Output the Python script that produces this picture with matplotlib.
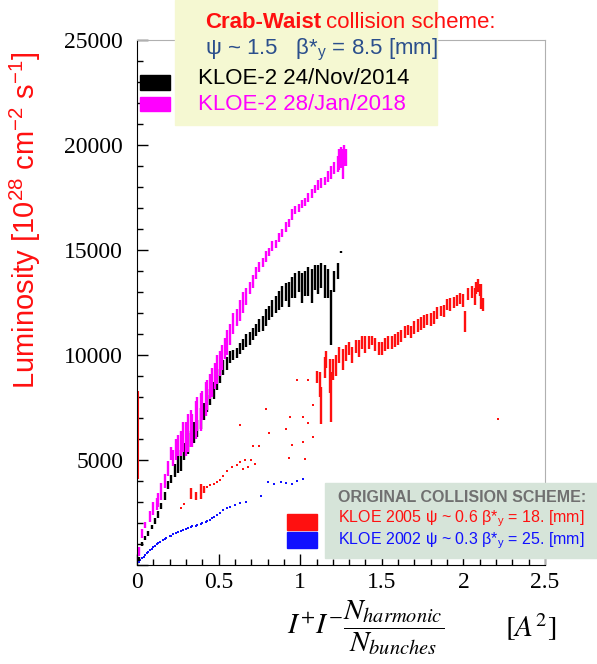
import matplotlib.pyplot as plt
import numpy as np
from matplotlib.patches import Rectangle

plt.rcParams['mathtext.fontset'] = 'custom'
plt.rcParams['mathtext.rm'] = 'Liberation Sans'
plt.rcParams['mathtext.it'] = 'Liberation Sans:italic'

# KLOE-2 28/Jan/2018 (magenta): x, luminosity, half spread
mag_x = [0.01, 0.03, 0.05, 0.08, 0.10, 0.12, 0.13, 0.15, 0.17, 0.19, 0.21, 0.22, 0.24, 0.25,
         0.27, 0.28, 0.30, 0.31, 0.33, 0.34, 0.36, 0.37, 0.39, 0.40, 0.42, 0.43, 0.45, 0.46,
         0.48, 0.49, 0.51, 0.52, 0.54, 0.55, 0.57, 0.59, 0.61, 0.63, 0.65, 0.67, 0.69, 0.71,
         0.73, 0.75, 0.77, 0.79, 0.81, 0.83, 0.85, 0.87, 0.89, 0.91, 0.93, 0.95, 0.97, 0.99,
         1.01, 1.03, 1.05, 1.07, 1.09, 1.11, 1.13, 1.15, 1.17, 1.19, 1.21, 1.23, 1.24, 1.25,
         1.26, 1.27, 1.28]
mag_y = [650, 1500, 1900, 2300, 2700, 2900, 3100, 3500, 4000, 4600, 5300, 5100, 5500, 5700,
         5800, 6100, 6000, 6300, 6500, 6400, 6900, 7200, 7300, 7600, 7900, 8100, 8500, 8700,
         9000, 9300, 9600, 9900, 10300, 10600, 11000, 11500, 11800, 12100, 12500, 12800, 13200,
         13500, 13900, 14200, 14400, 14700, 14900, 15200, 15300, 15600, 15800, 16100, 16300,
         16700, 16900, 17000, 17200, 17300, 17500, 17700, 17900, 18100, 18200, 18300, 18500,
         18700, 18900, 19100, 19300, 19400, 19100, 19500, 19400]
mag_e = [200, 200, 150, 250, 300, 300, 350, 400, 350, 350, 300, 400, 500, 500,
         600, 700, 800, 900, 900, 800, 900, 800, 900, 700, 800, 700, 600, 700,
         600, 700, 600, 600, 500, 600, 500, 500, 400, 500, 500, 400, 300, 300,
         300, 250, 200, 250, 200, 250, 200, 200, 200, 250, 200, 250, 200, 200,
         200, 200, 200, 200, 200, 250, 250, 200, 250, 300, 300, 400, 500, 500,
         700, 500, 400]

# KLOE-2 24/Nov/2014 (black)
blk_x = [0.01, 0.03, 0.05, 0.07, 0.09, 0.11, 0.13, 0.15, 0.17, 0.19, 0.21, 0.23, 0.25, 0.27,
         0.29, 0.31, 0.33, 0.35, 0.37, 0.39, 0.41, 0.43, 0.45, 0.47, 0.49, 0.51, 0.53, 0.55,
         0.57, 0.59, 0.61, 0.63, 0.65, 0.67, 0.69, 0.71, 0.73, 0.75, 0.77, 0.79, 0.81, 0.83,
         0.85, 0.87, 0.89, 0.91, 0.93, 0.95, 0.97, 0.99, 1.01, 1.03, 1.05, 1.07, 1.09, 1.11,
         1.13, 1.15, 1.17, 1.19, 1.21, 1.23, 1.25]
blk_y = [300, 1000, 1300, 1500, 1800, 2100, 2400, 2800, 3300, 3800, 4100, 4500, 4800, 5000,
         5400, 5800, 6000, 6300, 6500, 7000, 7300, 7700, 8000, 8300, 8700, 9000, 9400, 9600,
         9900, 10000, 10100, 10300, 10500, 10700, 10800, 11000, 11200, 11400, 11500, 11800,
         12000, 12200, 12400, 12600, 12800, 13000, 12900, 13200, 13300, 13500, 13200, 13400,
         13500, 13300, 13700, 13600, 13800, 13500, 13400, 11800, 13500, 14000, 14900]
blk_e = [100, 100, 100, 100, 100, 150, 150, 150, 200, 200, 200, 300, 400, 500,
         400, 500, 400, 500, 400, 500, 400, 400, 400, 400, 350, 350, 350, 300,
         300, 250, 250, 250, 250, 300, 300, 300, 300, 300, 350, 400, 350, 400,
         400, 450, 500, 450, 600, 500, 600, 500, 700, 600, 700, 800, 600, 700,
         600, 800, 700, 1300, 500, 400, 60]

# KLOE 2005 (red), main branch with spread
red_x = [0.33, 0.36, 0.39, 0.41, 1.10, 1.12, 1.13, 1.15, 1.16, 1.18, 1.19, 1.20, 1.22, 1.24,
         1.26, 1.28, 1.30, 1.32, 1.34, 1.36, 1.38, 1.40, 1.42, 1.44, 1.46, 1.48, 1.50, 1.52,
         1.54, 1.56, 1.58, 1.60, 1.62, 1.64, 1.66, 1.68, 1.70, 1.72, 1.74, 1.76, 1.78, 1.80,
         1.82, 1.84, 1.86, 1.88, 1.90, 1.92, 1.94, 1.96, 1.98, 2.00, 2.01, 2.03, 2.05, 2.07,
         2.08, 2.09, 2.10, 2.11, 2.12]
red_y = [3400, 3300, 3500, 3600, 8950, 8600, 7600, 9400, 9800, 9000, 8000, 9300, 9500, 10000,
         9800, 10100, 10300, 10000, 10400, 10300, 10600, 10500, 10600, 10700, 10500, 10300,
         10300, 10500, 10600, 10600, 10700, 10800, 10900, 11100, 11200, 11100, 11300, 11400,
         11500, 11600, 11700, 11700, 11800, 12000, 12100, 12100, 12400, 12400, 12500, 12600,
         12700, 12600, 11600, 12900, 13000, 12800, 13200, 13300, 13100, 12800, 12400]
red_e = [250, 200, 350, 150, 300, 600, 900, 500, 400, 800, 1200, 500, 500, 400,
         500, 400, 300, 400, 300, 400, 300, 400, 300, 200, 300, 300, 300, 300,
         300, 300, 300, 300, 300, 300, 250, 300, 300, 300, 300, 300, 250, 300,
         300, 300, 250, 300, 250, 300, 250, 250, 250, 300, 500, 300, 300, 400,
         300, 300, 300, 600, 300]

# KLOE 2005 (red), isolated points
redp_x = [0.27, 0.29, 0.43, 0.45, 0.47, 0.49, 0.51, 0.53, 0.55, 0.58, 0.61, 0.63, 0.65, 0.66,
          0.68, 0.70, 0.72, 0.71, 0.75, 0.63, 0.79, 0.81, 0.91, 0.94, 0.93, 0.95, 1.02, 1.03,
          1.02, 1.05, 1.08, 1.08, 0.98, 1.05, 2.21]
redp_y = [2700, 2900, 3700, 3800, 3850, 3950, 4050, 4250, 4500, 4650, 4750, 4900, 4550, 5000,
          4650, 5000, 4800, 5650, 5650, 6650, 7450, 6300, 6500, 7050, 5100, 5700, 5850, 5050,
          7050, 6750, 6100, 7600, 8800, 8800, 6950]
# red trace on the y axis
red_axis = [4100, 8300]

# KLOE 2002 (blue)
blu_x = [0.01, 0.02, 0.03, 0.04, 0.05, 0.06, 0.07, 0.08, 0.09, 0.10, 0.11, 0.12, 0.13, 0.14,
         0.16, 0.17, 0.18, 0.20, 0.21, 0.22, 0.24, 0.25, 0.27, 0.28, 0.30, 0.31, 0.33, 0.34,
         0.36, 0.37, 0.39, 0.40, 0.42, 0.43, 0.45, 0.46, 0.47, 0.49, 0.51, 0.53, 0.55, 0.57,
         0.60, 0.63, 0.67, 0.76, 0.80, 0.84, 0.88, 0.91, 0.95, 0.98, 1.02]
blu_y = [120, 250, 330, 400, 480, 550, 620, 700, 780, 850, 920, 1000, 1050, 1100,
         1200, 1250, 1300, 1400, 1380, 1480, 1530, 1580, 1620, 1670, 1700, 1750, 1800, 1850,
         1880, 1920, 1960, 2000, 2050, 2100, 2150, 2250, 2300, 2400, 2480, 2600, 2700, 2760,
         2850, 2950, 3000, 3300, 3950, 3850, 3950, 3900, 3850, 4000, 4100]

MAG = '#ff00ff'
RED = '#ff1010'
BLUE = '#1010ff'

fig = plt.figure(figsize=(5.97, 6.64), dpi=100)
ax = fig.add_axes([137 / 597, 1 - 565 / 664, 408 / 597, 525 / 664])

def bars(x, y, e, color, lw=1.7):
    x = np.array(x); y = np.array(y); e = np.array(e)
    ax.vlines(x, y - e, y + e, color=color, lw=lw)

ax.plot(blu_x, blu_y, 's', color=BLUE, ms=1.8, mew=0)
ax.plot(redp_x, redp_y, 's', color=RED, ms=2.0, mew=0)
ax.vlines(0.004, red_axis[0], red_axis[1], color=RED, lw=1.5)
bars(red_x, red_y, red_e, RED)
bars(blk_x, blk_y, blk_e, 'black')
bars(mag_x, mag_y, mag_e, MAG)

ax.set_xlim(0, 2.5)
ax.set_ylim(0, 25000)
ax.set_xticks([0, 0.5, 1, 1.5, 2, 2.5])
ax.set_xticklabels(['0', '0.5', '1', '1.5', '2', '2.5'])
ax.set_xticks(np.arange(0, 2.51, 0.1), minor=True)
ax.set_yticks([0, 5000, 10000, 15000, 20000, 25000])
ax.set_yticklabels(['', '5000', '10000', '15000', '20000', '25000'])
ax.set_yticks(np.arange(0, 25001, 1000), minor=True)
ax.tick_params(which='both', direction='in', top=False, right=False, color='black')
ax.tick_params(which='major', length=8, width=1)
ax.tick_params(which='minor', length=4, width=1)
ax.tick_params(axis='y', pad=10)
ax.tick_params(axis='x', pad=5)
for lab in ax.get_xticklabels() + ax.get_yticklabels():
    lab.set_fontfamily('Liberation Serif')
    lab.set_fontsize(17)
for s in ['top', 'right']:
    ax.spines[s].set_color('#b0b0b0')
ax.spines['left'].set_color('black')
ax.spines['bottom'].set_color('black')

fig.text(25 / 597, 1 - 220 / 664, 'Luminosity [10$^{28}$ cm$^{-2}$ s$^{-1}$]', rotation=90,
         color=RED, fontsize=21, family='Liberation Sans', ha='center', va='center')

# x axis label
fig.text(287 / 597, 1 - 628 / 664,
         r'$I^{+}I^{-}\dfrac{N_{harmonic}}{N_{bunches}}$',
         fontsize=21, math_fontfamily='stix', ha='left', va='center')
fig.text(505 / 597, 1 - 627 / 664, r'$[A^{2}]$',
         fontsize=21, math_fontfamily='stix', ha='left', va='center')

# top legend box
fig.patches.append(Rectangle((175 / 597, 1 - 125 / 664), 262 / 597, 125 / 664,
                             transform=fig.transFigure, color='#f5f8d2', zorder=3))
fig.patches.append(Rectangle((140 / 597, 1 - 90 / 664), 30 / 597, 15 / 664,
                             transform=fig.transFigure, color='black', zorder=3))
fig.patches.append(Rectangle((140 / 597, 1 - 111 / 664), 30 / 597, 14 / 664,
                             transform=fig.transFigure, color=MAG, zorder=3))
sans = 'Liberation Sans'
t = fig.text(205 / 597, 1 - 22 / 664, 'Crab-Waist', color=RED, fontsize=16, family=sans,
             weight='bold', va='center', zorder=4)
fig.canvas.draw()
bb = t.get_window_extent()
fig.text(bb.x1 / 597 + 5 / 597, 1 - 22 / 664, 'collision scheme:', color=RED, fontsize=16,
         family=sans, va='center', zorder=4)
fig.text(205 / 597, 1 - 50 / 664, r'ψ ~ 1.5   β*$_{\rm y}$ = 8.5 [mm]', color='#2b4f8c',
         fontsize=16, family=sans, va='center', zorder=4)
fig.text(198 / 597, 1 - 78 / 664, 'KLOE-2 24/Nov/2014', color='black', fontsize=16,
         family=sans, va='center', zorder=4)
fig.text(198 / 597, 1 - 104 / 664, 'KLOE-2 28/Jan/2018', color=MAG, fontsize=16,
         family=sans, va='center', zorder=4)

# bottom legend box
fig.patches.append(Rectangle((325 / 597, 1 - 558 / 664), 272 / 597, 75 / 664,
                             transform=fig.transFigure, color='#d6e4d9', zorder=3))
fig.patches.append(Rectangle((287 / 597, 1 - 530 / 664), 30 / 597, 16 / 664,
                             transform=fig.transFigure, color=RED, zorder=3))
fig.patches.append(Rectangle((287 / 597, 1 - 548 / 664), 30 / 597, 16 / 664,
                             transform=fig.transFigure, color=BLUE, zorder=3))
fig.text(338 / 597, 1 - 497 / 664, 'ORIGINAL COLLISION SCHEME:', color='#707070',
         fontsize=11.5, family=sans, weight='bold', va='center', zorder=4)
fig.text(338 / 597, 1 - 519 / 664, r'KLOE 2005 ψ ~ 0.6 β*$_{\rm y}$ = 18. [mm]', color=RED,
         fontsize=11.5, family=sans, va='center', zorder=4)
fig.text(338 / 597, 1 - 541 / 664, r'KLOE 2002 ψ ~ 0.3 β*$_{\rm y}$ = 25. [mm]', color=BLUE,
         fontsize=11.5, family=sans, va='center', zorder=4)

fig.savefig('out.png', dpi=100)
